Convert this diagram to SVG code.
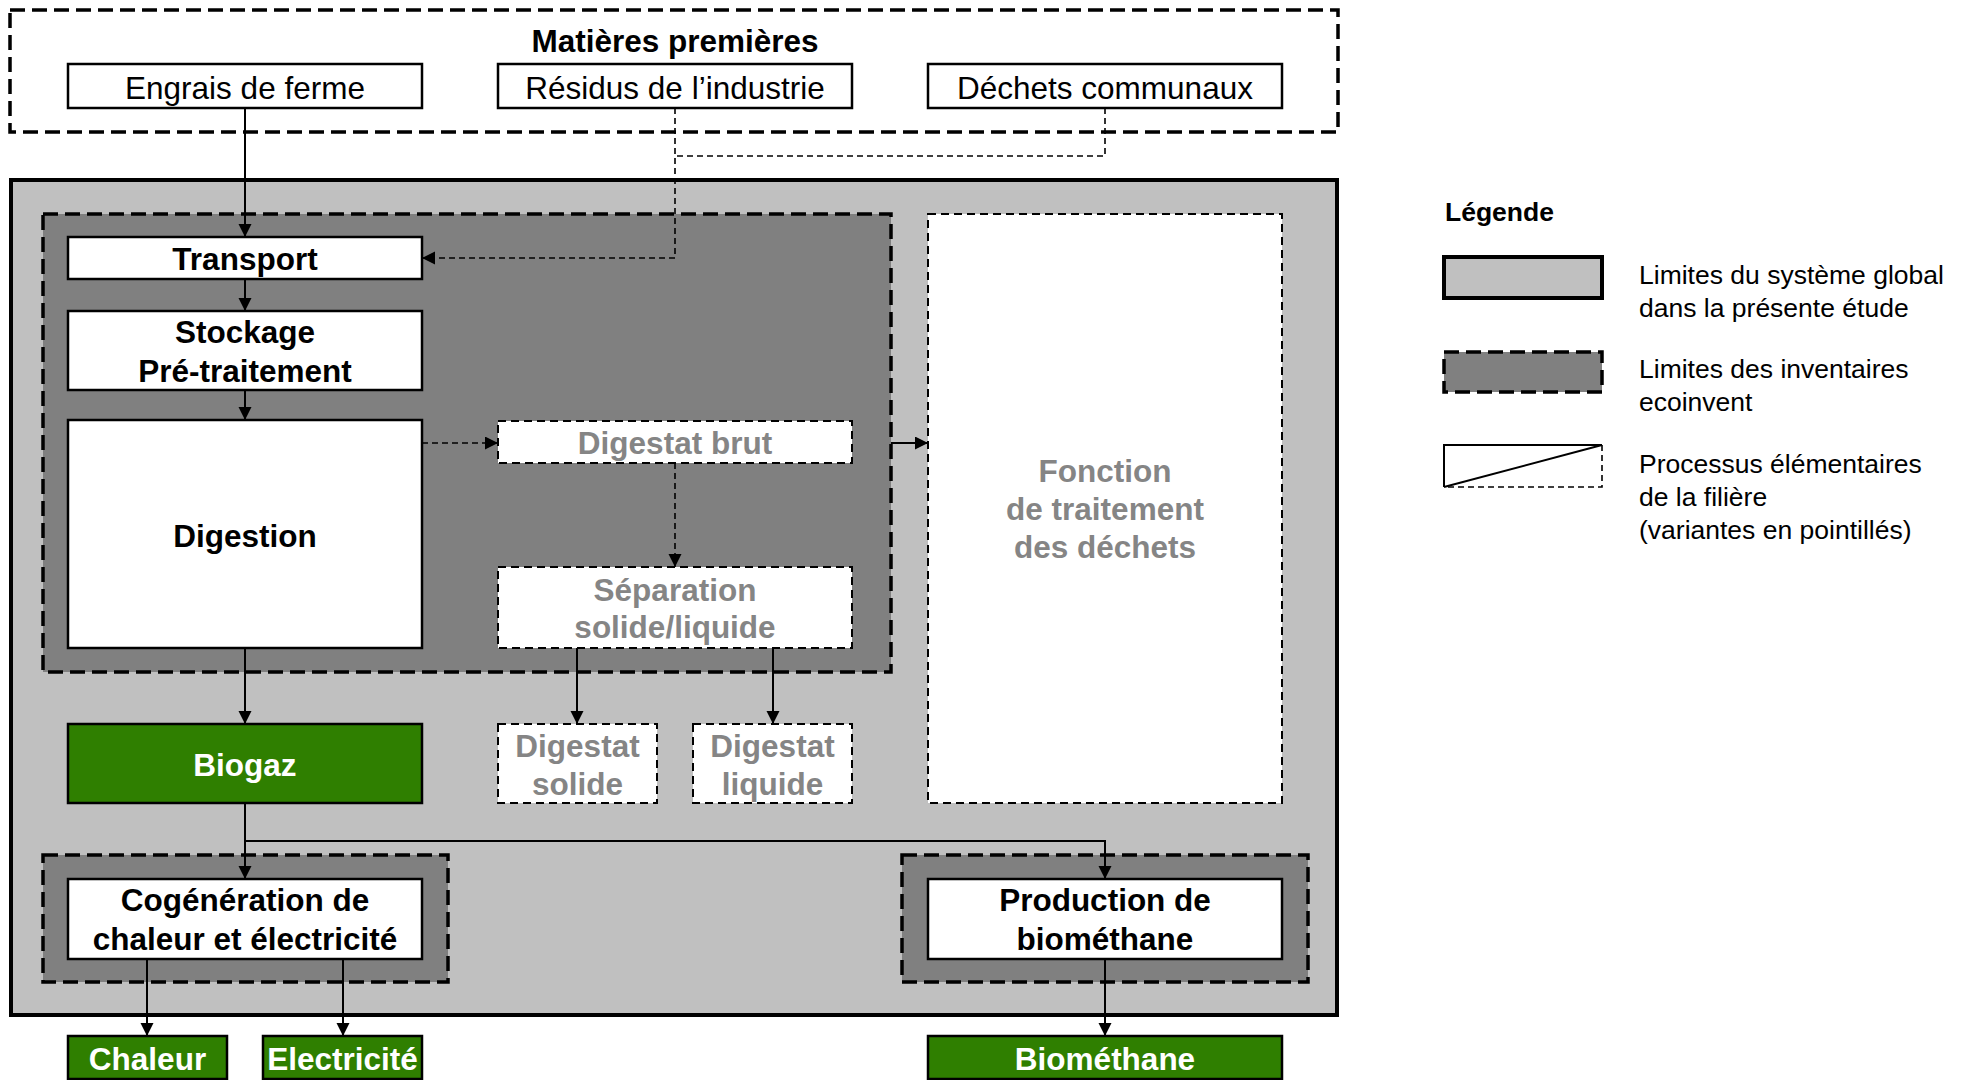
<svg xmlns="http://www.w3.org/2000/svg" width="1964" height="1080" viewBox="0 0 1964 1080">
<style>
text{font-family:"Liberation Sans",Arial,sans-serif;text-anchor:middle}
.r{font-size:31.5px;fill:#000}
.b{font-size:31.5px;font-weight:bold;fill:#000}
.g{font-size:31.5px;font-weight:bold;fill:#858585}
.w{font-size:31.5px;font-weight:bold;fill:#fff}
.lg{font-size:26.5px;fill:#000;text-anchor:start}
.lgb{font-size:26.5px;font-weight:bold;fill:#000;text-anchor:start}
.box{fill:#fff;stroke:#000;stroke-width:2.5}
.dbox{fill:#fff;stroke:#000;stroke-width:2;stroke-dasharray:8 5}
.green{fill:#2f7f00;stroke:#000;stroke-width:2.5}
.eco{fill:#808080;stroke:#000;stroke-width:3.5;stroke-dasharray:15 7}
.sys{fill:#c0c0c0;stroke:#000;stroke-width:4}
.c{fill:none;stroke:#000;stroke-width:2}
.cd{fill:none;stroke:#000;stroke-width:1.6;stroke-dasharray:6 4}
</style>
<defs>
<marker id="ah" markerUnits="userSpaceOnUse" markerWidth="14" markerHeight="14" refX="13" refY="6.5" orient="auto">
<path d="M0,0 L13,6.5 L0,13 z" fill="#000"/>
</marker>
</defs>
<rect width="1964" height="1080" fill="#fff"/>

<g id="matieres-premieres">
<rect x="10" y="10" width="1328" height="122" fill="none" stroke="#000" stroke-width="3.5" stroke-dasharray="15 7"/>
<text class="b" x="675" y="52">Matières premières</text>
</g>
<g id="engrais"><rect class="box" x="68" y="64" width="354" height="44"/><text class="r" x="245" y="99">Engrais de ferme</text></g>
<g id="residus"><rect class="box" x="498" y="64" width="354" height="44"/><text class="r" x="675" y="99">Résidus de l’industrie</text></g>
<g id="dechets"><rect class="box" x="928" y="64" width="354" height="44"/><text class="r" x="1105" y="99">Déchets communaux</text></g>

<g id="systeme"><rect class="sys" x="11" y="180" width="1326" height="835"/></g>
<g id="ecoinvent-digestion"><rect class="eco" x="43" y="214" width="848" height="458"/></g>

<g id="transport"><rect class="box" x="68" y="237" width="354" height="42"/><text class="b" x="245" y="270">Transport</text></g>
<g id="stockage"><rect class="box" x="68" y="311" width="354" height="79"/><text class="b" x="245" y="343">Stockage</text><text class="b" x="245" y="382">Pré-traitement</text></g>
<g id="digestion"><rect class="box" x="68" y="420" width="354" height="228"/><text class="b" x="245" y="547">Digestion</text></g>
<g id="digestat-brut"><rect class="dbox" x="498" y="421" width="354" height="42"/><text class="g" x="675" y="454">Digestat brut</text></g>
<g id="separation"><rect class="dbox" x="498" y="567" width="354" height="81"/><text class="g" x="675" y="601">Séparation</text><text class="g" x="675" y="638">solide/liquide</text></g>
<g id="fonction"><rect class="dbox" x="928" y="214" width="354" height="589"/><text class="g" x="1105" y="482">Fonction</text><text class="g" x="1105" y="520">de traitement</text><text class="g" x="1105" y="558">des déchets</text></g>
<g id="digestat-solide"><rect class="dbox" x="498" y="724" width="159" height="79"/><text class="g" x="577.5" y="757">Digestat</text><text class="g" x="577.5" y="795">solide</text></g>
<g id="digestat-liquide"><rect class="dbox" x="693" y="724" width="159" height="79"/><text class="g" x="772.5" y="757">Digestat</text><text class="g" x="772.5" y="795">liquide</text></g>
<g id="biogaz"><rect class="green" x="68" y="724" width="354" height="79"/><text class="w" x="245" y="776">Biogaz</text></g>

<g id="ecoinvent-cogeneration"><rect class="eco" x="43" y="855" width="405" height="127"/></g>
<g id="cogeneration"><rect class="box" x="68" y="879" width="354" height="80"/><text class="b" x="245" y="911">Cogénération de</text><text class="b" x="245" y="950">chaleur et électricité</text></g>
<g id="ecoinvent-production"><rect class="eco" x="902" y="855" width="406" height="127"/></g>
<g id="production"><rect class="box" x="928" y="879" width="354" height="80"/><text class="b" x="1105" y="911">Production de</text><text class="b" x="1105" y="950">biométhane</text></g>

<g id="chaleur"><rect class="green" x="68" y="1036" width="159" height="43"/><text class="w" x="147.5" y="1070">Chaleur</text></g>
<g id="electricite"><rect class="green" x="263" y="1036" width="159" height="43"/><text class="w" x="342.5" y="1070">Electricité</text></g>
<g id="biomethane"><rect class="green" x="928" y="1036" width="354" height="43"/><text class="w" x="1105" y="1070">Biométhane</text></g>

<g id="connectors">
<path class="c" d="M245,108 V237" marker-end="url(#ah)"/>
<path class="cd" d="M675,108 V258 H422" marker-end="url(#ah)"/>
<path class="cd" d="M1105,108 V156 H675"/>
<path class="c" d="M245,279 V311" marker-end="url(#ah)"/>
<path class="c" d="M245,390 V420" marker-end="url(#ah)"/>
<path class="cd" d="M422,443 H498" marker-end="url(#ah)"/>
<path class="cd" d="M675,463 V567" marker-end="url(#ah)"/>
<path class="c" d="M891,443 H928" marker-end="url(#ah)"/>
<path class="c" d="M577,648 V724" marker-end="url(#ah)"/>
<path class="c" d="M773,648 V724" marker-end="url(#ah)"/>
<path class="c" d="M245,648 V724" marker-end="url(#ah)"/>
<path class="c" d="M245,803 V879" marker-end="url(#ah)"/>
<path class="c" d="M245,841 H1105 V879" marker-end="url(#ah)"/>
<path class="c" d="M147,959 V1036" marker-end="url(#ah)"/>
<path class="c" d="M343,959 V1036" marker-end="url(#ah)"/>
<path class="c" d="M1105,959 V1036" marker-end="url(#ah)"/>
</g>

<g id="legende">
<text class="lgb" x="1445" y="221">Légende</text>
<rect x="1444" y="257" width="158" height="41" fill="#c0c0c0" stroke="#000" stroke-width="4"/>
<text class="lg" x="1639" y="284">Limites du système global</text>
<text class="lg" x="1639" y="317">dans la présente étude</text>
<rect x="1444" y="352" width="158" height="40" fill="#808080" stroke="#000" stroke-width="3.5" stroke-dasharray="15 7"/>
<text class="lg" x="1639" y="378">Limites des inventaires</text>
<text class="lg" x="1639" y="411">ecoinvent</text>
<path d="M1444,487 V445 H1602" fill="none" stroke="#000" stroke-width="2"/>
<path d="M1602,445 V487 H1444" fill="none" stroke="#000" stroke-width="1.6" stroke-dasharray="6 4"/>
<path d="M1444,487 L1602,445" fill="none" stroke="#000" stroke-width="2"/>
<text class="lg" x="1639" y="473">Processus élémentaires</text>
<text class="lg" x="1639" y="506">de la filière</text>
<text class="lg" x="1639" y="539">(variantes en pointillés)</text>
</g>
</svg>
